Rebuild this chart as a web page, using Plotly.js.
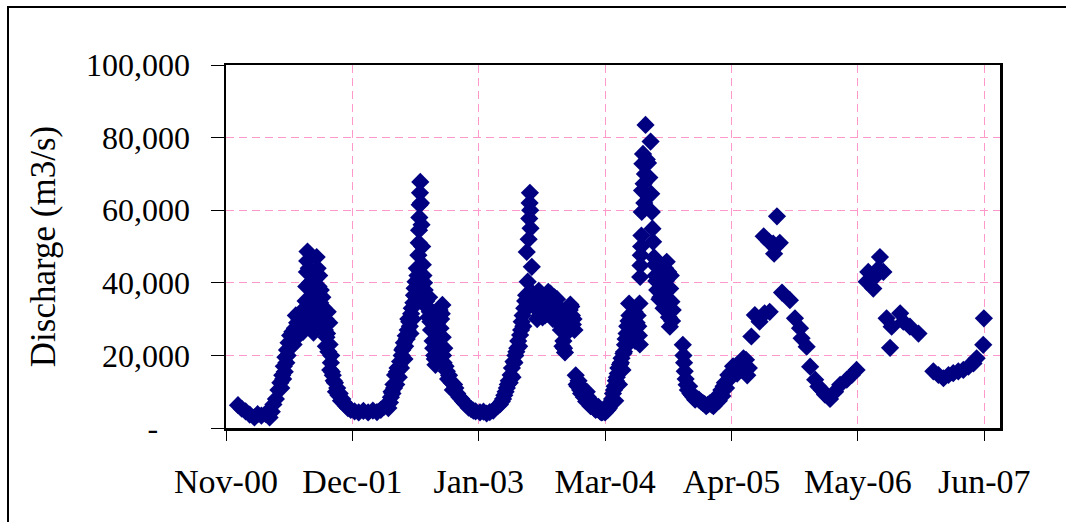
<!DOCTYPE html>
<html>
<head>
<meta charset="utf-8">
<script src="https://cdn.plot.ly/plotly-3.0.1.min.js"></script>
<style>
  html, body { margin: 0; padding: 0; background: #fff; }
  #wrap { position: relative; width: 1066px; height: 522px; overflow: hidden; }
  #chart { width: 1066px; height: 522px; }
  #frame { position: absolute; left: 7px; top: 6px; width: 1100px; height: 600px;
           border-left: 2px solid #000; border-top: 2px solid #000; pointer-events: none; }
</style>
</head>
<body>
<div id="wrap">
  <div id="chart"></div>
  <div id="frame"></div>
</div>
<script>
const dates = [
  '2000-12-28','2001-01-09','2001-01-21','2001-02-03','2001-02-18','2001-02-28','2001-03-12','2001-03-25',
  '2001-04-07','2001-04-14','2001-04-19','2001-04-27','2001-05-05','2001-05-11','2001-05-17','2001-05-22',
  '2001-05-27','2001-06-01','2001-06-06','2001-06-11','2001-06-18','2001-06-22','2001-06-26','2001-07-03',
  '2001-07-08','2001-07-10','2001-07-14','2001-07-18','2001-07-22','2001-07-25','2001-07-30','2001-08-01',
  '2001-08-03','2001-08-04','2001-08-05','2001-08-09','2001-08-13','2001-08-17','2001-08-22','2001-08-24',
  '2001-08-27','2001-08-31','2001-09-03','2001-09-06','2001-09-11','2001-09-16','2001-09-21','2001-09-26',
  '2001-10-01','2001-10-02','2001-10-06','2001-10-08','2001-10-13','2001-10-14','2001-10-16','2001-10-19',
  '2001-10-24','2001-10-31','2001-11-07','2001-11-15','2001-11-23','2001-12-02','2001-12-11','2001-12-20',
  '2002-01-01','2002-01-14','2002-01-29','2002-02-13','2002-02-28','2002-03-13','2002-03-25','2002-04-04',
  '2002-04-14','2002-04-23','2002-04-28','2002-05-04','2002-05-09','2002-05-13','2002-05-17','2002-05-21',
  '2002-05-25','2002-05-30','2002-06-04','2002-06-08','2002-06-12','2002-06-18','2002-06-23','2002-06-27',
  '2002-07-01','2002-07-08','2002-07-13','2002-07-17','2002-07-22','2002-07-23','2002-07-24','2002-07-25',
  '2002-07-26','2002-07-27','2002-07-28','2002-07-30','2002-08-01','2002-08-03','2002-08-05','2002-08-07',
  '2002-08-11','2002-08-16','2002-08-21','2002-08-25','2002-08-29','2002-09-02','2002-09-05','2002-09-10',
  '2002-09-14','2002-09-18','2002-09-22','2002-09-27','2002-10-02','2002-10-06','2002-10-07','2002-10-08',
  '2002-10-12','2002-10-20','2002-10-27','2002-11-04','2002-11-16','2002-11-29','2002-12-11','2002-12-21',
  '2003-01-05','2003-01-19','2003-02-02','2003-02-13','2003-02-23','2003-03-05','2003-03-16','2003-03-30',
  '2003-04-12','2003-04-20','2003-04-28','2003-05-04','2003-05-10','2003-05-19','2003-05-25','2003-05-31',
  '2003-06-09','2003-06-14','2003-06-22','2003-06-28','2003-06-30','2003-07-03','2003-07-06','2003-07-08',
  '2003-07-09','2003-07-10','2003-07-11','2003-07-12','2003-07-16','2003-07-20','2003-07-28','2003-08-02',
  '2003-08-07','2003-08-12','2003-08-17','2003-08-22','2003-08-27','2003-09-01','2003-09-06','2003-09-11',
  '2003-09-16','2003-09-21','2003-09-26','2003-10-01','2003-10-06','2003-10-16','2003-10-24','2003-10-29',
  '2003-11-02','2003-11-05','2003-11-10','2003-11-15','2003-11-20','2003-11-25','2003-11-28','2003-12-02',
  '2003-12-05','2003-12-11','2003-12-16','2003-12-23','2004-01-01','2004-01-04','2004-01-06','2004-01-14',
  '2004-01-22','2004-01-29','2004-02-08','2004-02-17','2004-02-25','2004-03-04','2004-03-12','2004-03-19',
  '2004-03-26','2004-04-01','2004-04-05','2004-04-07','2004-04-13','2004-04-17','2004-04-20','2004-04-25',
  '2004-04-28','2004-05-01','2004-05-06','2004-05-11','2004-05-15','2004-05-19','2004-05-20','2004-05-22',
  '2004-05-28','2004-06-02','2004-06-07','2004-06-12','2004-06-17','2004-06-21','2004-06-22','2004-06-23',
  '2004-06-24','2004-06-25','2004-06-26','2004-06-27','2004-06-28','2004-06-29','2004-06-30','2004-07-02',
  '2004-07-04','2004-07-06','2004-07-08','2004-07-10','2004-07-14','2004-07-18','2004-07-22','2004-07-26',
  '2004-07-28','2004-07-30','2004-08-01','2004-08-03','2004-08-06','2004-08-11','2004-08-16','2004-08-21',
  '2004-08-26','2004-08-31','2004-09-05','2004-09-10','2004-09-15','2004-09-20','2004-09-25','2004-09-26',
  '2004-09-30','2004-10-04','2004-11-05','2004-11-07','2004-11-11','2004-11-17','2004-11-29','2004-12-09',
  '2004-12-19','2005-01-01','2005-01-13','2005-01-23','2005-02-04','2005-02-15','2005-02-23','2005-03-03',
  '2005-03-14','2005-03-29','2005-04-08','2005-04-20','2005-05-03','2005-05-16','2005-05-24','2005-05-28',
  '2005-06-02','2005-06-10','2005-06-21','2005-07-06','2005-07-19','2005-07-22','2005-08-05','2005-08-07',
  '2005-08-18','2005-08-21','2005-08-30','2005-09-08','2005-09-15','2005-10-10','2005-10-26','2005-11-11',
  '2005-11-16','2005-12-02','2005-12-13','2005-12-29','2006-01-08','2006-01-19','2006-01-29','2006-02-14',
  '2006-03-02','2006-03-18','2006-04-08','2006-04-24','2006-05-09','2006-06-10','2006-06-15','2006-07-01',
  '2006-07-06','2006-07-17','2006-07-22','2006-08-02','2006-08-12','2006-08-23','2006-08-28','2006-09-24',
  '2006-10-04','2006-10-25','2006-11-21','2007-01-07','2007-01-23','2007-02-08','2007-02-24','2007-03-11',
  '2007-03-27','2007-04-12','2007-04-28','2007-05-14','2007-05-24','2007-06-14','2007-06-16'
];

// Discharge in m3/s
const discharge = [
  6300,5300,4600,3700,2900,3800,3400,3900,
  2900,4500,6500,8000,10500,12500,14500,17000,
  19500,21500,23500,25500,26500,23000,27500,29000,
  25500,30000,27000,29500,26500,31000,35000,39000,
  43000,46000,48600,44000,40000,36000,33000,26300,
  30000,38000,47100,44000,42000,38000,36000,33000,
  30000,22500,26000,32000,29000,23000,16000,20000,
  14500,12500,11000,9500,8000,6500,5500,5000,
  4600,4300,4700,4300,4800,4400,5000,5800,
  6500,7000,10000,12000,14600,12000,16500,14000,
  18300,20000,22000,19000,25400,27000,29300,26000,
  33000,36600,40300,44000,47600,51000,54500,58000,
  61500,64800,67800,62000,56000,50000,45000,42000,
  38000,35000,33000,36000,29300,31000,24000,20000,
  17400,22000,27000,32500,30000,33900,25000,20000,
  22000,15600,14500,12500,11000,8500,7300,6400,
  5200,4600,4300,4500,4000,4400,4800,6000,
  7300,9000,11000,13000,14600,18300,20000,22000,
  25600,29300,33000,36600,48500,40300,52000,57700,
  62000,64800,60000,55000,44400,37000,33000,30000,
  37800,34000,35000,32000,31000,36000,37500,34000,
  33000,30000,36000,34000,30000,27000,24000,20800,
  26000,31000,33000,34000,31000,30000,27000,14500,
  12000,13000,10500,11000,9000,7300,10000,7000,
  6500,5500,5200,4600,4400,4300,5000,6500,
  8000,10500,7500,13000,15000,12000,17500,19200,
  16000,20500,22900,26000,23000,34300,31000,25000,
  27000,30000,24000,29000,28000,34300,23000,41600,
  44800,47600,50000,53000,59500,65400,72800,75500,
  67300,62000,70000,83500,74000,73000,69000,78900,
  64500,59500,54900,51300,47000,42000,38000,44000,
  36000,40000,33000,44000,45800,43000,27900,38400,
  34800,32500,22900,20000,15600,11900,9500,8500,
  8200,7300,6600,6400,6400,7200,8000,9200,
  11500,14600,15500,16900,17500,19200,18800,14500,
  16500,25200,31100,29300,52800,31600,51300,32000,
  50800,48000,58300,51000,37300,35200,30200,27500,
  24700,22400,16900,13300,11400,10500,9200,8000,
  10000,11900,13300,14600,16000,40300,43000,38400,
  41600,43900,47100,43000,30200,22100,27900,31600,
  29300,27900,26000,15600,14600,13700,14600,15100,
  15600,16000,16900,17800,19200,22900,30200
];

// Additional readings inside the dense wet-season bands
const extraDates = [
  '2001-05-14','2001-05-20','2001-05-25','2001-05-30','2001-06-03','2001-06-09','2001-06-14','2001-06-29',
  '2001-07-06','2001-07-16','2001-07-28','2001-08-07','2001-08-11','2001-08-19','2001-08-29','2001-09-09',
  '2001-09-14','2001-09-19','2001-09-24','2001-09-29','2001-10-04','2001-10-10','2001-10-18','2001-10-21',
  '2001-10-27','2001-11-03','2001-11-11','2001-11-19','2001-11-28','2001-12-06','2002-04-18','2002-04-26',
  '2002-05-01','2002-05-06','2002-05-15','2002-05-23','2002-05-28','2002-06-01','2002-06-06','2002-06-10',
  '2002-06-15','2002-06-20','2002-06-25','2002-06-29','2002-07-04','2002-07-06','2002-07-10','2002-07-15',
  '2002-07-19','2002-08-09','2002-08-13','2002-08-18','2002-08-23','2002-08-27','2002-08-31','2002-09-07',
  '2002-09-12','2002-09-16','2002-09-20','2002-09-25','2002-09-30','2002-10-04','2002-10-10','2002-10-16',
  '2002-10-24','2002-10-31','2002-11-08','2002-11-12','2002-11-22','2002-12-05','2002-12-16','2002-12-28',
  '2003-01-12','2003-04-06','2003-04-16','2003-04-24','2003-05-01','2003-05-07','2003-05-14','2003-05-16',
  '2003-05-22','2003-05-28','2003-06-03','2003-06-06','2003-06-12','2003-06-17','2003-06-19','2003-06-25',
  '2003-07-01','2003-07-24','2003-07-31','2003-08-04','2003-08-10','2003-08-14','2003-08-19','2003-08-25',
  '2003-08-30','2003-09-03','2003-09-09','2003-09-13','2003-09-19','2003-09-24','2003-09-29','2003-10-04',
  '2003-10-09','2003-10-12','2003-10-19','2003-10-21','2003-10-26','2003-10-31','2003-11-08','2003-11-13',
  '2003-11-18','2003-11-23','2003-12-08','2003-12-19','2003-12-28','2004-01-10','2004-01-18','2004-01-25',
  '2004-02-03','2004-02-12','2004-02-21','2004-02-29','2004-03-08','2004-03-16','2004-03-23','2004-03-29',
  '2004-04-03','2004-04-10','2004-04-15','2004-04-23','2004-05-03','2004-05-08','2004-05-13','2004-05-17',
  '2004-05-25','2004-05-31','2004-06-05','2004-06-10','2004-06-15','2004-06-19','2004-08-08','2004-08-13',
  '2004-08-18','2004-08-23','2004-08-28','2004-09-02','2004-09-07','2004-09-12','2004-09-17','2004-09-22',
  '2004-09-28','2004-10-02','2004-11-09','2004-11-14','2004-11-21','2004-11-25','2004-12-04','2004-12-14',
  '2004-12-26','2005-01-07','2005-01-18','2005-01-29','2005-02-10','2005-02-19','2005-02-27','2005-03-07',
  '2005-03-10','2005-03-18','2005-03-22','2005-04-02','2005-04-13','2005-04-26','2005-05-08','2005-05-12'
];
const extraDischarge = [
  11000,13500,15500,18000,20000,22000,24000,31000,
  28000,32000,33000,31000,28500,27500,34000,39000,
  34500,31000,28500,27000,25000,21000,18000,15500,
  13000,10000,9000,7500,7000,6000,5500,8500,
  9500,11000,15500,17000,16500,21500,23500,22500,
  24500,30000,28000,31500,30000,34500,38500,36000,
  42000,40000,36500,33500,30500,32000,27000,22000,
  19000,24500,29000,30500,27500,31500,18000,17000,
  13500,13000,10500,12000,9500,8000,6800,5600,
  4800,6500,8000,10000,12000,12500,16500,14000,
  18000,21000,24000,22500,27000,31000,28000,35000,
  33000,36000,35000,33500,31000,36500,30500,35000,
  33000,31500,35000,37000,35500,32000,33000,35500,
  32000,29000,28000,22500,22000,28500,29000,32500,
  33500,28500,11500,9500,8500,8500,6000,7000,
  5000,5800,4300,5200,4800,5500,7000,9500,
  11500,14000,16500,18000,21000,24500,28000,29500,
  29000,26000,32000,26000,31000,25500,45000,40500,
  41000,35500,38000,42000,37000,40500,33000,30500,
  42000,29500,18000,13500,10500,11500,9000,7800,
  7800,6900,6000,6800,6000,8500,7500,10500,
  8800,12500,11000,13500,17000,15000,18000,16000
];

// Axis ticks
const xTickDates = ['2000-11-20','2001-12-25','2003-01-29','2004-03-04','2005-04-08','2006-05-13','2007-06-17'];
const xRange = ['2000-11-20','2007-08-06'];
const yTickVals = [0, 20000, 40000, 60000, 80000, 100000];
const yTickText = ['-\u00a0\u00a0\u00a0\u00a0', '20,000', '40,000', '60,000', '80,000', '100,000'];

const serif = 'Liberation Serif, Times New Roman, serif';

const trace = {
  x: dates.concat(extraDates),
  y: discharge.concat(extraDischarge),
  type: 'scatter',
  mode: 'markers',
  marker: { symbol: 'diamond', size: 14, color: '#000080', line: { width: 0 } },
  hoverinfo: 'x+y'
};

const layout = {
  width: 1066,
  height: 522,
  margin: { l: 226, r: 66, t: 65, b: 94 },
  paper_bgcolor: '#ffffff',
  plot_bgcolor: '#ffffff',
  showlegend: false,
  xaxis: {
    type: 'date',
    range: xRange,
    tickmode: 'array',
    tickvals: xTickDates,
    tickformat: '%b-%y',
    ticks: 'outside',
    ticklen: 10,
    tickwidth: 1,
    tickcolor: '#000',
    ticklabelstandoff: 12,
    tickfont: { family: serif, size: 34, color: '#000' },
    showline: true,
    linewidth: 2.5,
    linecolor: '#000',
    mirror: true,
    showgrid: true,
    gridcolor: '#FF99CC',
    gridwidth: 1,
    griddash: '8px,5px',
    zeroline: false
  },
  yaxis: {
    range: [0, 100000],
    tickmode: 'array',
    tickvals: yTickVals,
    ticktext: yTickText,
    ticks: 'outside',
    ticklen: 13,
    tickwidth: 1,
    tickcolor: '#000',
    ticklabelstandoff: 14,
    tickfont: { family: serif, size: 32, color: '#000' },
    showline: true,
    linewidth: 2.5,
    linecolor: '#000',
    mirror: true,
    showgrid: true,
    gridcolor: '#FF99CC',
    gridwidth: 1,
    griddash: '8px,5px',
    zeroline: false,
    title: { text: 'Discharge (m3/s)', font: { family: serif, size: 35, color: '#000' }, standoff: 20 }
  }
};

Plotly.newPlot('chart', [trace], layout, { displayModeBar: false, staticPlot: true });
</script>
</body>
</html>
